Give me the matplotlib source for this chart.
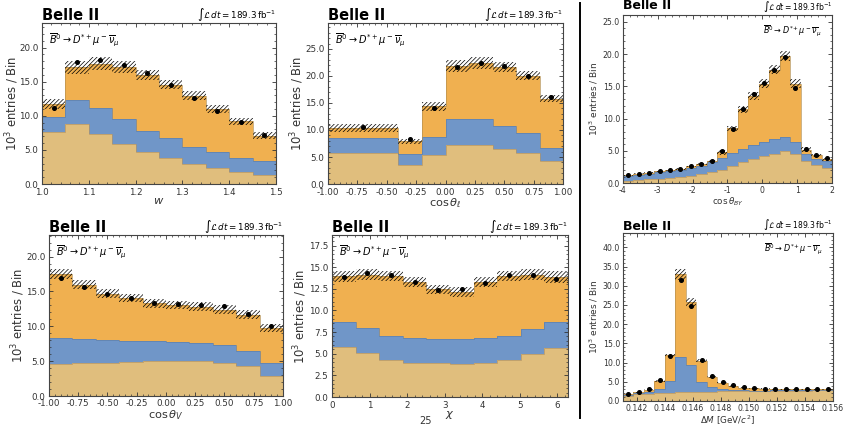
import numpy as np
import matplotlib
matplotlib.use('Agg')
import matplotlib.pyplot as plt
from matplotlib.ticker import MultipleLocator, AutoMinorLocator, FormatStrFormatter
from matplotlib.lines import Line2D

plt.rcParams['mathtext.fontset'] = 'dejavusans'
plt.rcParams['hatch.linewidth'] = 0.5

# stacked levels (10^3 entries / bin)
# *_tan = bottom component, *_blue = top of blue layer, *_total = top of orange layer

# w
w_edges = np.linspace(1.0, 1.5, 11)
w_tan = [7.68, 8.75, 7.29, 5.87, 4.74, 3.77, 2.89, 2.40, 1.81, 1.37]
w_blue = [9.88, 12.32, 11.10, 9.49, 7.78, 6.80, 5.43, 4.65, 3.77, 3.42]
w_total = [11.7, 17.1, 17.65, 17.1, 16.0, 14.57, 12.96, 10.95, 9.19, 7.09]
w_unc = [0.73, 0.95, 0.93, 0.88, 0.71, 0.68, 0.64, 0.59, 0.54, 0.54]
w_data = [11.2, 17.95, 18.24, 17.46, 16.23, 14.57, 12.66, 10.7, 9.14, 7.14]

# cos theta_l (first bin is wide)
cl_edges = [-1.0, -0.4, -0.2, 0.0, 0.2, 0.4, 0.6, 0.8, 1.0]
cl_tan = [5.73, 3.57, 5.42, 7.14, 7.14, 6.40, 5.79, 4.25]
cl_blue = [8.50, 5.54, 8.74, 12.07, 12.00, 10.78, 9.36, 6.59]
cl_total = [10.34, 7.88, 14.35, 21.8, 22.4, 21.67, 20.07, 15.82]
cl_unc = [0.77, 0.49, 0.80, 1.1, 1.1, 0.95, 0.8, 0.68]
cl_data = [10.47, 8.37, 14.16, 21.67, 22.35, 21.8, 19.95, 16.13]

# cos theta_V
cv_edges = np.linspace(-1.0, 1.0, 11)
cv_tan = [4.64, 4.69, 4.78, 4.83, 4.98, 5.07, 5.02, 4.78, 4.35, 2.92]
cv_blue = [8.37, 8.13, 7.99, 7.89, 7.89, 7.80, 7.66, 7.27, 6.46, 4.69]
cv_total = [17.46, 15.98, 14.69, 14.07, 13.3, 13.06, 12.78, 12.39, 11.67, 9.76]
cv_unc = [0.72, 0.67, 0.67, 0.6, 0.62, 0.6, 0.65, 0.6, 0.62, 0.57]
cv_data = [16.99, 15.69, 14.69, 14.07, 13.3, 13.2, 13.0, 12.87, 11.77, 10.05]

# chi
chi_edges = np.linspace(0.0, 2 * np.pi, 11)
chi_tan = [5.79, 5.10, 4.29, 3.98, 3.98, 3.82, 3.98, 4.29, 5.02, 5.72]
chi_blue = [8.69, 7.96, 7.03, 6.84, 6.76, 6.72, 6.84, 7.03, 7.88, 8.69]
chi_total = [13.94, 14.14, 13.98, 13.33, 12.44, 12.13, 13.26, 13.98, 14.14, 13.87]
chi_unc = [0.62, 0.62, 0.58, 0.58, 0.52, 0.54, 0.58, 0.58, 0.62, 0.64]
chi_data = [13.83, 14.37, 14.14, 13.26, 12.32, 12.44, 13.13, 14.14, 14.14, 13.6]

# cos theta_BY
by_edges = np.linspace(-4.0, 2.0, 21)
by_tan = [0.41, 0.52, 0.62, 0.72, 0.83, 0.93, 1.14, 1.35, 1.66, 1.97,
          2.64, 3.26, 3.73, 4.19, 4.50, 5.02, 4.50, 3.47, 2.85, 2.33]
by_blue = [1.04, 1.24, 1.45, 1.66, 1.86, 2.07, 2.38, 2.69, 3.21, 3.83,
           4.66, 5.33, 5.95, 6.37, 6.78, 7.14, 6.31, 4.55, 3.78, 3.42]
by_total = [1.19, 1.45, 1.60, 1.81, 1.97, 2.23, 2.59, 2.95, 3.42, 4.76,
            8.49, 11.44, 13.46, 15.43, 17.6, 19.72, 15.43, 5.18, 4.30, 3.67]
by_unc = [0.08, 0.09, 0.1, 0.1, 0.11, 0.12, 0.14, 0.16, 0.2, 0.44,
          0.41, 0.57, 0.65, 0.65, 0.7, 0.8, 0.65, 0.39, 0.26, 0.26]
by_data = [1.19, 1.45, 1.6, 1.81, 1.97, 2.23, 2.59, 2.95, 3.42, 4.92,
           8.44, 11.44, 13.87, 15.58, 17.6, 19.57, 14.75, 5.33, 4.4, 3.93]

# Delta M
dm_edges = np.linspace(0.141, 0.156, 21)
dm_tan = [1.39, 1.73, 1.9, 2.08, 2.08, 2.34, 2.34, 2.34, 2.43, 2.5,
          2.55, 2.58, 2.6, 2.62, 2.65, 2.68, 2.7, 2.72, 2.75, 2.8]
dm_blue = [1.56, 2.08, 2.43, 3.12, 5.2, 11.45, 9.45, 4.94, 3.64, 3.12,
           2.86, 2.78, 2.72, 2.72, 2.74, 2.76, 2.8, 2.82, 2.85, 2.9]
dm_total = [1.73, 2.25, 2.95, 5.1, 11.9, 33.0, 25.7, 10.5, 6.33, 4.77,
            3.9, 3.47, 3.3, 3.15, 3.1, 3.1, 3.1, 3.1, 3.1, 3.1]
dm_unc = [0.1, 0.12, 0.15, 0.25, 0.43, 1.39, 1.21, 0.43, 0.28, 0.2,
          0.17, 0.15, 0.15, 0.15, 0.15, 0.15, 0.15, 0.15, 0.15, 0.15]
dm_data = [1.73, 2.3, 3.2, 5.46, 11.7, 31.5, 24.8, 10.6, 6.5, 4.94,
           4.08, 3.73, 3.47, 3.25, 3.2, 3.2, 3.2, 3.2, 3.2, 3.2]

TAN = '#e0be7d'
BLUE = '#7096c8'
ORANGE = '#f0b050'
DECAY = r'$\overline{B}^0 \to D^{*+}\mu^-\overline{\nu}_\mu$'
LUMI = r'$\int\mathcal{L}\,dt = 189.3\,\mathrm{fb}^{-1}$'


def draw(ax, edges, tan, blue, total, unc, data):
    edges = np.asarray(edges)
    tan, blue, total = np.asarray(tan), np.asarray(blue), np.asarray(total)
    unc = np.asarray(unc)
    ax.stairs(total, edges, baseline=0, fill=True, color=ORANGE, lw=0)
    ax.stairs(blue, edges, baseline=0, fill=True, color=BLUE, lw=0)
    ax.stairs(tan, edges, baseline=0, fill=True, color=TAN, lw=0)
    for lvl, c in ((tan, '#b09468'), (blue, '#5f7fa8'), (total, '#b59050')):
        ax.stairs(lvl, edges, baseline=None, color=c, lw=0.6, alpha=0.8)
    ax.stairs(total + unc, edges, baseline=total - unc, fill=True,
              facecolor='none', edgecolor='k', hatch='////////', lw=0)
    centers = 0.5 * (edges[1:] + edges[:-1])
    ax.plot(centers, data, 'o', color='k', ms=2.6, zorder=5)
    ax.set_xlim(edges[0], edges[-1])


def style(ax, ylim, ystep, xstep, xfmt, xlabel, ylab_x, small=False,
          decay_right=False, belle_y=1.02):
    fs_tick = 5.6 if small else 6.3
    fs_lab = 6.5 if small else 8.4
    ax.set_ylim(0, ylim)
    ax.yaxis.set_major_locator(MultipleLocator(ystep))
    ax.yaxis.set_major_formatter(FormatStrFormatter('%.1f'))
    ax.xaxis.set_major_locator(MultipleLocator(xstep))
    ax.xaxis.set_major_formatter(FormatStrFormatter(xfmt))
    ax.xaxis.set_minor_locator(AutoMinorLocator())
    ax.yaxis.set_minor_locator(AutoMinorLocator())
    ax.tick_params(which='both', direction='in', top=True, right=True,
                   labelsize=fs_tick, colors='#333333', pad=2.2 if small else 2.5)
    ax.tick_params(which='major', length=3, width=0.6)
    ax.tick_params(which='minor', length=1.6, width=0.5)
    for s in ax.spines.values():
        s.set_color('#444444')
        s.set_linewidth(0.8)
    ax.set_ylabel(r'$10^3$ entries / Bin', fontsize=fs_lab, color='#333333')
    ax.yaxis.set_label_coords(ylab_x, 0.5)
    ax.set_xlabel(xlabel, fontsize=(fs_lab - 0.2) if small else 8.2, color='#333333',
                  labelpad=0.3 if small else -0.5)
    ax.text(0.0, belle_y, 'Belle II', transform=ax.transAxes, fontsize=9 if small else 10.5,
            fontweight='bold', va='baseline', ha='left')
    ax.text(1.0, 1.03, LUMI, transform=ax.transAxes, fontsize=5.5 if small else 6.3,
            va='baseline', ha='right')
    if decay_right:
        ax.text(0.95, 0.95, DECAY, transform=ax.transAxes, fontsize=5.8,
                va='top', ha='right')
    else:
        ax.text(0.03, 0.95, DECAY, transform=ax.transAxes, fontsize=7,
                va='top', ha='left')


fig = plt.figure(figsize=(8.46, 4.26), dpi=100)

ax1 = fig.add_axes([0.0496, 0.568, 0.2766, 0.378])
draw(ax1, w_edges, w_tan, w_blue, w_total, w_unc, w_data)
style(ax1, 23.6, 5, 0.1, '%.1f', r'$w$', -0.09)

ax2 = fig.add_axes([0.3877, 0.568, 0.2778, 0.378])
draw(ax2, cl_edges, cl_tan, cl_blue, cl_total, cl_unc, cl_data)
style(ax2, 29.8, 5, 0.25, '%.2f', r'$\cos\theta_\ell$', -0.093)

ax3 = fig.add_axes([0.0579, 0.0704, 0.2766, 0.378])
draw(ax3, cv_edges, cv_tan, cv_blue, cv_total, cv_unc, cv_data)
style(ax3, 23.1, 5, 0.25, '%.2f', r'$\cos\theta_V$', -0.096)

ax4 = fig.add_axes([0.3924, 0.068, 0.279, 0.380])
draw(ax4, chi_edges, chi_tan, chi_blue, chi_total, chi_unc, chi_data)
style(ax4, 18.7, 2.5, 1, '%d', r'$\chi$', -0.096)

ax5 = fig.add_axes([0.7364, 0.570, 0.247, 0.394])
draw(ax5, by_edges, by_tan, by_blue, by_total, by_unc, by_data)
style(ax5, 26.0, 5, 1, '%d', r'$\cos\theta_{BY}$', -0.108, small=True,
      decay_right=True, belle_y=1.035)

ax6 = fig.add_axes([0.7364, 0.0587, 0.248, 0.394])
draw(ax6, dm_edges, dm_tan, dm_blue, dm_total, dm_unc, dm_data)
style(ax6, 43.7, 5, 0.002, '%.3f', r'$\Delta M$ [GeV/$c^2$]', -0.108, small=True,
      decay_right=True)

# separator and page number
fig.add_artist(Line2D([580 / 846, 580 / 846], [1 - 3 / 426, 1 - 418 / 426],
                      color='k', lw=1.4))
fig.text(425 / 846, 1 - 421 / 426, '25', fontsize=7, ha='center', va='center', color='#333333')

fig.savefig('out.png', dpi=100)
